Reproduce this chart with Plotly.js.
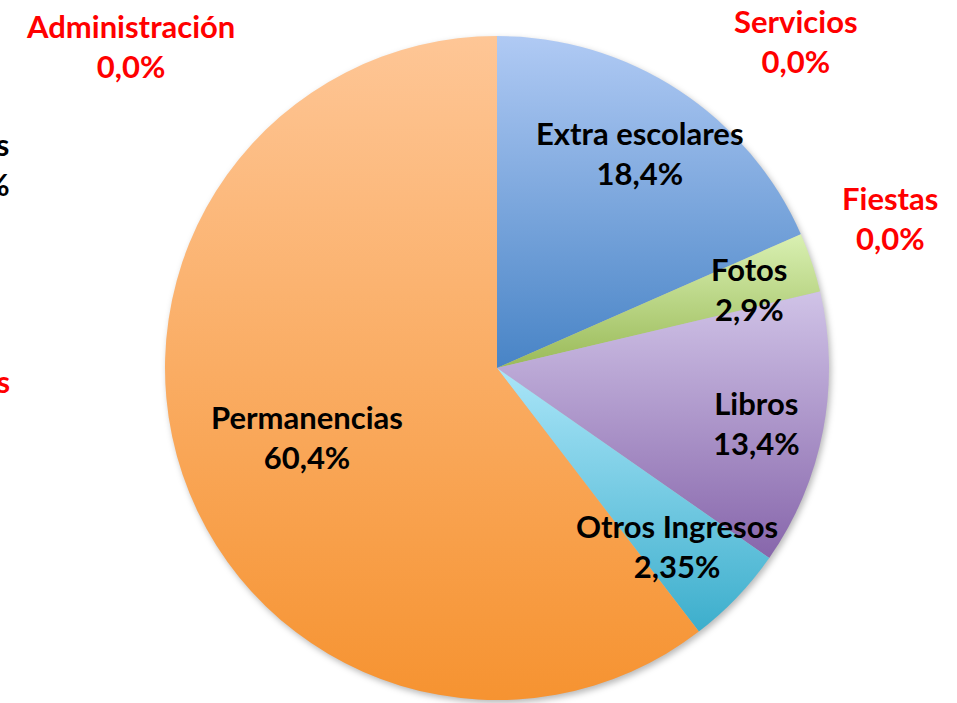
<!DOCTYPE html>
<html>
<head>
<meta charset="utf-8">
<script src="https://cdn.plot.ly/plotly-3.0.1.min.js"></script>
<style>
  html, body { margin: 0; padding: 0; background: #fff; }
  #plot { width: 957px; height: 703px; }
  #plot .pielayer { filter: drop-shadow(2px 3px 3px rgba(0, 0, 0, 0.28)); }
</style>
</head>
<body>
<div id="plot"></div>
<script>
// categories, clockwise from 12 o'clock
const labels = ['Extra escolares', 'Fotos', 'Libros', 'Otros Ingresos', 'Permanencias',
                'Rifas', 'Excursiones', 'Administración', 'Servicios', 'Fiestas'];
// slice sizes (%)
const values = [18.4, 2.9, 13.4, 4.9, 60.4, 0, 0, 0, 0, 0];
// percentage text as printed on the chart
const pctText = ['18,4%', '2,9%', '13,4%', '2,35%', '60,4%', '0,0%', '0,0%', '0,0%', '0,0%', '0,0%'];
// label text colour
const labelColors = ['#000000', '#000000', '#000000', '#000000', '#000000',
                     '#000000', '#ff0000', '#ff0000', '#ff0000', '#ff0000'];

// gradient colours per slice: top, bottom
const topColors = ['#b0caf4', '#d9f0b2', '#d0c3e7', '#aae5f8', '#fec696'];
const bottomColors = ['#4884c6', '#9aba58', '#8766ab', '#3caecc', '#f69331'];
const midColors = ['#7ea7dd', '#bbd585', '#ab95c9', '#72c9e2', '#faad64'];

// label centres in pixels (x, y from top)
const labelPos = [[640, 153], [749, 289], [756, 423], [677, 546], [307, 437],
                  [-25, 164], [-72, 401], [130, 46], [796, 41], [890, 218]];

const W = 957, H = 703;
const cx = 497, cy = 368, r = 332;

const trace = {
    type: 'pie',
    labels: labels,
    values: values,
    sort: false,
    direction: 'clockwise',
    rotation: 0,
    textinfo: 'none',
    hoverinfo: 'label+percent',
    showlegend: false,
    marker: { colors: midColors, line: { width: 0 } },
    domain: {
        x: [(cx - r) / W, (cx + r) / W],
        y: [(H - cy - r) / H, (H - cy + r) / H]
    }
};

const annotations = labels.map((name, i) => ({
    xref: 'paper', yref: 'paper',
    x: labelPos[i][0] / W,
    y: 1 - labelPos[i][1] / H,
    xanchor: 'center', yanchor: 'middle',
    showarrow: false,
    text: '<b>' + name + '<br>' + pctText[i] + '</b>',
    font: { family: 'Lato, "Open Sans", sans-serif', size: 31, color: labelColors[i] }
}));

const layout = {
    width: W,
    height: H,
    margin: { l: 0, r: 0, t: 0, b: 0 },
    paper_bgcolor: '#ffffff',
    annotations: annotations
};

Plotly.newPlot('plot', [trace], layout, { staticPlot: true }).then(gd => {
    // vertical gradient on each slice, as in the original
    const svg = gd.querySelector('svg.main-svg');
    const ns = 'http://www.w3.org/2000/svg';
    let defs = svg.querySelector('defs');
    if (!defs) { defs = document.createElementNS(ns, 'defs'); svg.insertBefore(defs, svg.firstChild); }
    topColors.forEach((c, i) => {
        const g = document.createElementNS(ns, 'linearGradient');
        g.setAttribute('id', 'slicegrad' + i);
        g.setAttribute('x1', '0'); g.setAttribute('y1', '0');
        g.setAttribute('x2', '0'); g.setAttribute('y2', '1');
        [[0, c], [1, bottomColors[i]]].forEach(([off, col]) => {
            const s = document.createElementNS(ns, 'stop');
            s.setAttribute('offset', off);
            s.setAttribute('stop-color', col);
            g.appendChild(s);
        });
        defs.appendChild(g);
    });
    gd.querySelectorAll('.slice path.surface').forEach((p, k) => {
        const i = p.__data__ && p.__data__.i !== undefined ? p.__data__.i : k;
        if (i < topColors.length) p.style.fill = 'url(#slicegrad' + i + ')';
    });
});
</script>
</body>
</html>
